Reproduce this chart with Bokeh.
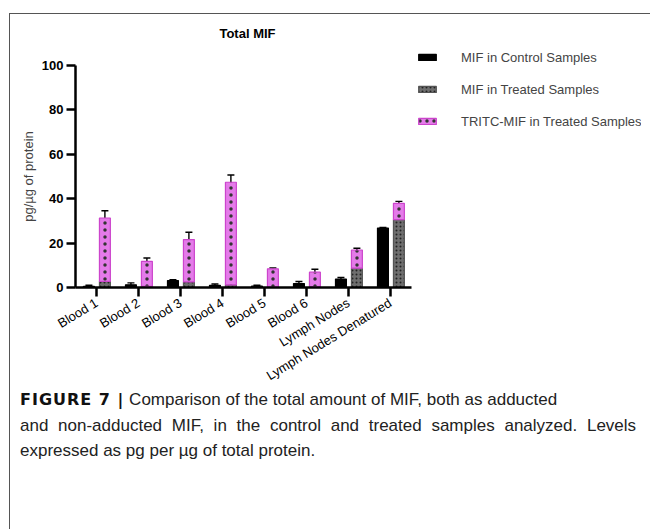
import math
from bokeh.plotting import figure
from bokeh.models import (ColumnDataSource, FactorRange, Range1d, Whisker, TeeHead,
                          Legend, LegendItem, FixedTicker, Div)
from bokeh.layouts import column, row
from bokeh.transform import dodge
from bokeh.embed import file_html
from bokeh.resources import INLINE

categories = ["Blood 1", "Blood 2", "Blood 3", "Blood 4", "Blood 5", "Blood 6",
              "Lymph Nodes", "Lymph Nodes Denatured"]
control_mif = [0.5, 1.2, 3.1, 1.0, 0.6, 1.8, 3.8, 26.8]
control_err = [0.5, 0.9, 0.4, 0.6, 0.4, 0.9, 0.7, 0.3]
treated_mif = [2.8, 0.5, 2.5, 1.2, 0.2, 0.3, 8.7, 30.6]
treated_err = [1.1, 0.8, 0.4, 1.3, 0.6, 0.7, 1.2, 1.0]
tritc_mif = [28.5, 11.3, 19.1, 46.2, 8.2, 6.6, 8.2, 7.3]
tritc_err = [3.3, 1.5, 3.3, 3.3, 0.4, 1.3, 0.8, 0.9]
y_ticks = [0, 20, 40, 60, 80, 100]
series_names = ["MIF in Control Samples", "MIF in Treated Samples",
                "TRITC-MIF in Treated Samples"]

total = [a + b for a, b in zip(treated_mif, tritc_mif)]
src = ColumnDataSource(dict(
    cat=categories, control=control_mif, treated=treated_mif, tritc=tritc_mif, tot=total,
    c_lo=[v - e for v, e in zip(control_mif, control_err)],
    c_hi=[v + e for v, e in zip(control_mif, control_err)],
    t_lo=[v - e for v, e in zip(treated_mif, treated_err)],
    t_hi=[v + e for v, e in zip(treated_mif, treated_err)],
    p_lo=[v - e for v, e in zip(total, tritc_err)],
    p_hi=[v + e for v, e in zip(total, tritc_err)],
))

FONT = "Liberation Sans"
TOP = 21
FRAME_H = 222
BOTTOM = 110
FIG_H = TOP + FRAME_H + BOTTOM
FIG_W = 406
TITLE_H = 30
p = figure(width=FIG_W, height=FIG_H, output_backend="svg", toolbar_location=None,
           title=None,
           x_range=FactorRange(*categories), y_range=Range1d(0, 100),
           min_border_left=65, min_border_right=5, min_border_top=TOP,
           min_border_bottom=BOTTOM)
p.outline_line_color = None
p.xgrid.grid_line_color = None
p.ygrid.grid_line_color = None
p.x_range.range_padding = 0

W = 0.26
OFF_C = -0.18
OFF_T = 0.2

BAR_STYLES = dict(
    fill_color=["black", "#6e6e6e", "#e47be9"],
    line_color=["black", "#555555", "#cc44cc"],
    hatch_pattern=[" ", "dot", "dot"],
    hatch_color=["black", "#222222", "#333333"],
    hatch_scale=[4, 4, 7],
    hatch_weight=[1.0, 1.0, 0.9],
)

def style(i):
    return {k: v[i] for k, v in BAR_STYLES.items()}

r_c = p.vbar(x=dodge("cat", OFF_C, range=p.x_range), top="control", width=W,
             source=src, line_width=1.2, **style(0))
r_t = p.vbar(x=dodge("cat", OFF_T, range=p.x_range), bottom=0, top="treated", width=W,
             source=src, line_width=1.2, **style(1))
r_p = p.vbar(x=dodge("cat", OFF_T, range=p.x_range), bottom="treated", top="tot", width=W,
             source=src, line_width=1.2, **style(2))

def whisk(off, lo, hi):
    w = Whisker(base=dodge("cat", off, range=p.x_range), lower=lo, upper=hi, source=src,
                line_color="black", line_width=1.4,
                upper_head=TeeHead(size=7, line_color="black", line_width=1.4),
                lower_head=TeeHead(size=7, line_color="black", line_width=1.4))
    p.add_layout(w)

whisk(OFF_C, "c_lo", "c_hi")
whisk(OFF_T, "t_lo", "t_hi")
whisk(OFF_T, "p_lo", "p_hi")

for ax in (p.xaxis[0], p.yaxis[0]):
    ax.axis_line_width = 2.5
    ax.major_tick_line_width = 2.5
    ax.major_tick_out = 9
    ax.major_tick_in = 0
    ax.minor_tick_line_color = None
    ax.major_label_text_color = "black"

p.yaxis.ticker = FixedTicker(ticks=y_ticks)
p.yaxis.major_label_text_font = FONT
p.yaxis.major_label_text_font_style = "bold"
p.yaxis.major_label_text_font_size = "13px"
p.yaxis.major_label_standoff = 3
p.yaxis.axis_label = "pg/µg of protein"
p.yaxis.axis_label_text_font = FONT
p.yaxis.axis_label_text_font_style = "normal"
p.yaxis.axis_label_text_font_size = "13px"
p.yaxis.axis_label_standoff = 3

p.xaxis.major_label_orientation = 0.55
p.xaxis.major_label_text_font = FONT
p.xaxis.major_label_text_font_size = "13px"
p.xaxis.major_label_standoff = 5

# legend panel (separate figure so that it is not clipped by the main frame)
LEG_W = 225
LEG_H = TITLE_H + FIG_H
lg = figure(width=LEG_W, height=LEG_H, output_backend="svg", toolbar_location=None,
            title=None, x_range=Range1d(0, LEG_W), y_range=Range1d(0, LEG_H),
            x_axis_type=None, y_axis_type=None, min_border=0, min_border_top=33)
lg.outline_line_color = None
lg.xgrid.grid_line_color = None
lg.ygrid.grid_line_color = None
proxy = ColumnDataSource(dict(x=[-100], top=[-100]))  # legend proxy, outside view
leg_renderers = [lg.vbar(x="x", top="top", width=1, source=proxy, line_width=1.2,
                         **style(i)) for i in range(3)]
legend = Legend(items=[LegendItem(label=n, renderers=[r])
                       for n, r in zip(series_names, leg_renderers)],
                location="top_left", orientation="vertical",
                glyph_width=22, glyph_height=8, label_height=20, label_standoff=23,
                spacing=12, padding=0, margin=0, border_line_color=None,
                background_fill_alpha=0, label_text_font=FONT,
                label_text_font_size="13px")
lg.add_layout(legend)

title = Div(text="Total MIF", width=FIG_W, height=TITLE_H, margin=0,
            styles={"font-family": "'Liberation Sans', Arial, sans-serif",
                    "font-size": "13px", "font-weight": "bold", "color": "black",
                    "text-align": "center", "line-height": "39px",
                    "padding-left": "69px", "box-sizing": "border-box"})

caption = Div(
    text=("<span style=\"font-family:'DejaVu Sans'; font-weight:bold; font-size:16px; "
          "letter-spacing:1px; color:#111\">FIGURE 7 |</span> Comparison of the total "
          "amount of MIF, both as adducted<br><span style=\"word-spacing:5px\">and "
          "non-adducted MIF, in the control and treated samples analyzed. Levels</span>"
          "<br>expressed as pg per µg of total protein."),
    width=630, height=140,
    styles={"font-family": "'Liberation Sans', Arial, sans-serif", "font-size": "17px",
            "line-height": "25.5px", "color": "#222222", "padding-left": "5px",
            "margin-top": "-10px", "white-space": "nowrap", "box-sizing": "border-box"})

layout = column(row(column(title, p, spacing=0), lg, spacing=0), caption, spacing=0,
                styles={"margin-left": "9px", "margin-top": "13px",
                        "border-left": "1.5px solid #555555",
                        "border-top": "1.5px solid #555555"})

open("out.html", "w").write(file_html(layout, INLINE))
